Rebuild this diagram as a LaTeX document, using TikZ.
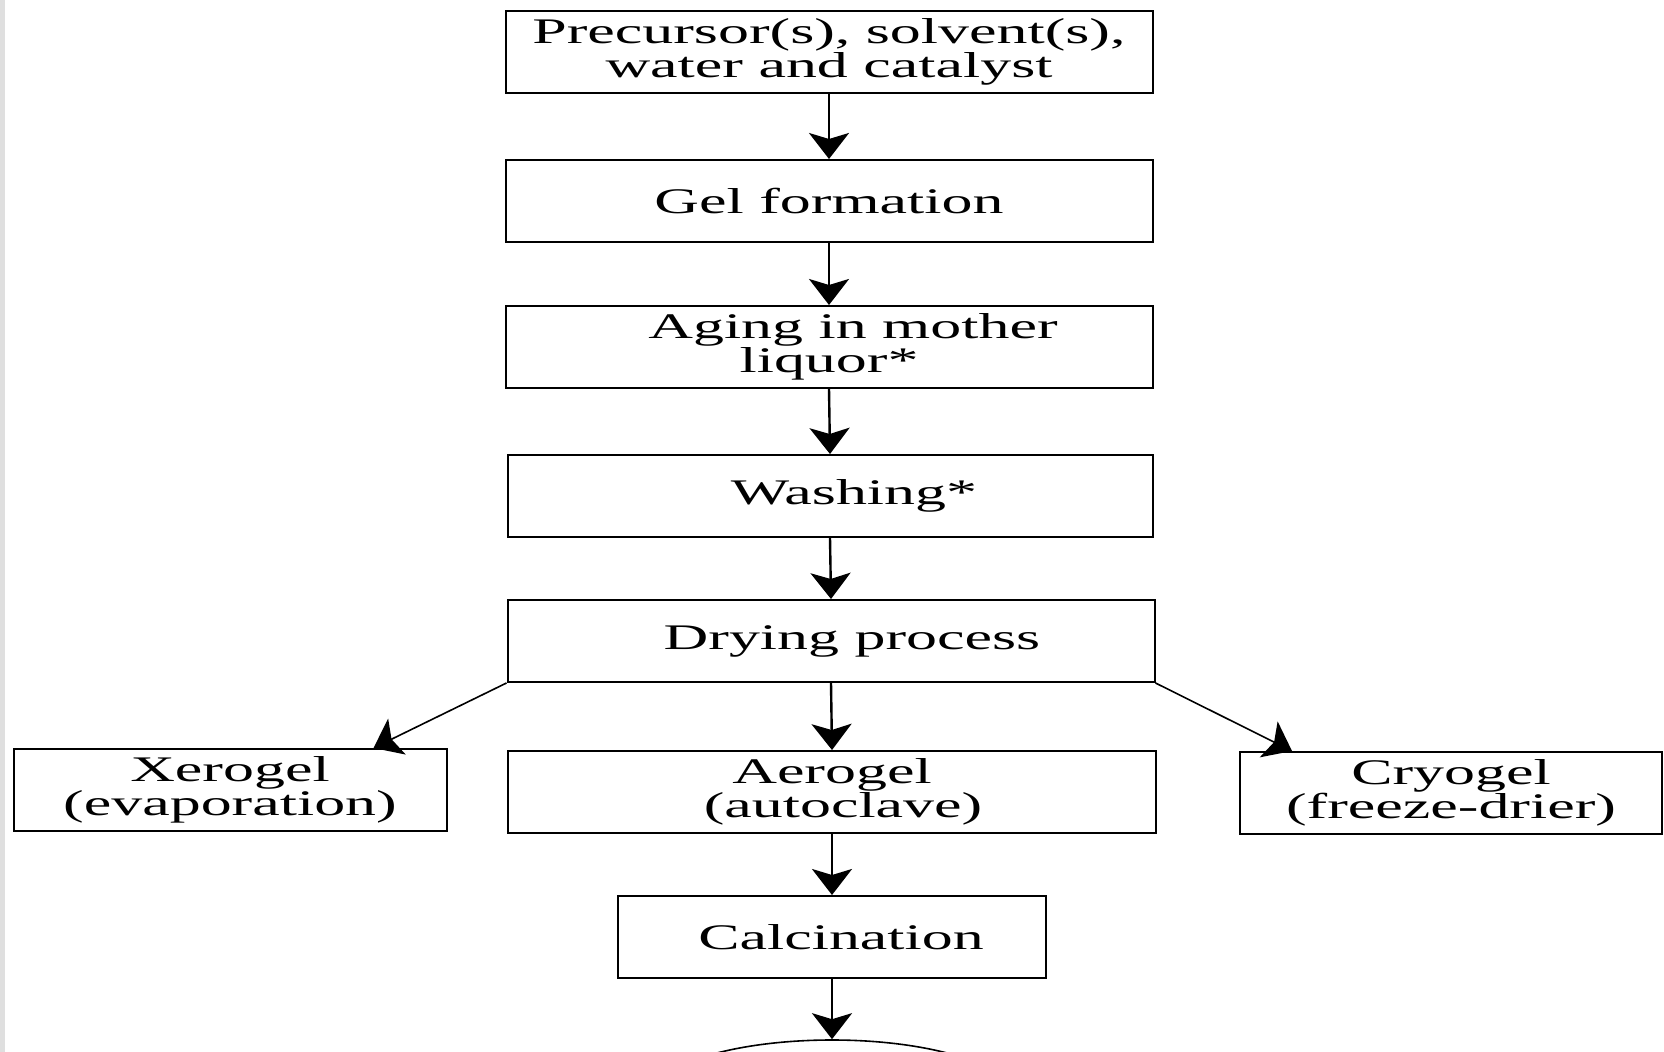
\documentclass[tikz,border=0pt]{standalone}
\usepackage{fontspec}
\setmainfont{Liberation Serif}[FakeStretch=1.72]
\usetikzlibrary{arrows.meta,shapes.geometric,calc}
\newcommand{\boxfont}{\fontsize{18}{17}\selectfont\lineskiplimit=-20pt\relax}

\begin{document}
\begin{tikzpicture}
	  [x=0.5pt,y=-0.5pt,every path/.style={>={Stealth[width=20pt,length=13pt,inset=3pt]}},
	   stepbox/.style={draw, line width=1pt, inner sep=0pt, align=center, minimum height=41pt,
	     font=\boxfont}]
	  \useasboundingbox (0,0) rectangle (1664,1052);
	  \clip (0,0) rectangle (1664,1052);
	  \fill[gray!25] (0,0) rectangle (5,1052);

	  \node[stepbox, minimum width=323.5pt] (prec) at (829,52)  {Precursor(s), solvent(s),\\ water and catalyst};
	  \node[stepbox, minimum width=323.5pt] (gel)  at (829,201) {Gel formation};
	  \node[stepbox, minimum width=323.5pt] (aging) at (829,347) {\hspace*{24pt}Aging in mother\\ liquor*};
	  \node[stepbox, minimum width=322.5pt] (wash) at (830,496) {\hspace*{24pt}Washing*};
	  \node[stepbox, minimum width=323.5pt] (dry)  at (831,641) {\hspace*{21pt}Drying process};
	  \node[stepbox, minimum width=216.5pt] (xero) at (230,790) {Xerogel\\ (evaporation)};
	  \node[stepbox, minimum width=324pt]   (aero) at (832,792) {Aerogel\\ \hspace*{11pt}(autoclave)};
	  \node[stepbox, minimum width=211pt]   (cryo) at (1451,793) {Cryogel\\ (freeze-drier)};
	  \node[stepbox, minimum width=214pt]   (calc) at (832,937) {\hspace*{9pt}Calcination};
	  \node[draw, ellipse, line width=0.8pt, minimum width=185pt, minimum height=60pt] (prod) at (832,1100) {};

	  \foreach \from/\to in {prec/gel,gel/aging,aging/wash,wash/dry,dry/aero,aero/calc,calc/prod}
	    \draw[->, line width=1.2pt] (\from.south) -- (\to.north);
	  \draw[->, line width=0.8pt] (dry.south west) -- ($(xero.north west)!0.83!(xero.north east)$);
	  \draw[->, line width=0.8pt] (dry.south east) -- ($(cryo.north west)!0.125!(cryo.north east)$);
	\end{tikzpicture}
\end{document}
